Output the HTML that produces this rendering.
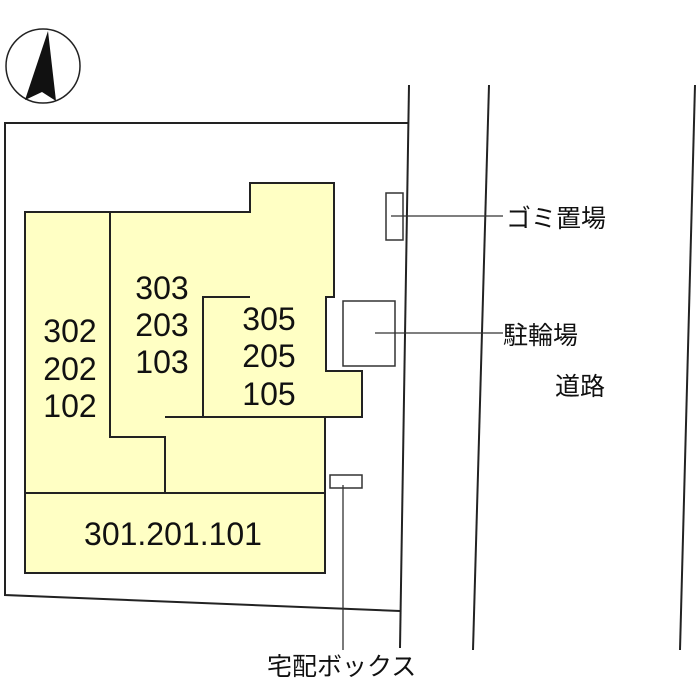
<!DOCTYPE html>
<html><head><meta charset="utf-8"><style>
html,body{margin:0;padding:0;background:#fff;}
svg{display:block;}
text{font-family:"Liberation Sans","Noto Sans CJK JP",sans-serif;fill:#111;}
</style></head><body>
<svg width="700" height="700" viewBox="0 0 700 700" xmlns="http://www.w3.org/2000/svg">
<circle cx="43" cy="66" r="37" fill="none" stroke="#222" stroke-width="1.5"/>
<polygon points="48,31 25,100 42,92 56,101" fill="#111"/>
<polyline points="408,123 5,123 5,595 400,611" fill="none" stroke="#222" stroke-width="2"/>
<line x1="409" y1="85" x2="400" y2="648" stroke="#222" stroke-width="2"/>
<line x1="489" y1="85" x2="473" y2="650" stroke="#222" stroke-width="2"/>
<line x1="695" y1="85" x2="680" y2="650" stroke="#222" stroke-width="2"/>
<g fill="#ffffc4" stroke="#222" stroke-width="2">
<polygon points="25,212 250,212 250,183 334,183 334,297 326,297 326,371 362,371 362,417 325,417 325,573 25,573"/>
</g>
<g fill="none" stroke="#222" stroke-width="2">
<polyline points="110,212 110,437 165,437 165,493"/>
<line x1="25" y1="493" x2="325" y2="493"/>
<line x1="165" y1="417" x2="325" y2="417"/>
<polyline points="203,417 203,297 250,297"/>
</g>
<g fill="#fff" stroke="#333" stroke-width="1.5">
<rect x="386" y="193" width="17" height="47"/>
<rect x="343" y="301" width="52" height="65"/>
<rect x="330" y="475" width="32" height="13"/>
</g>
<g stroke="#333" stroke-width="1.3">
<line x1="391" y1="216" x2="503" y2="216"/>
<line x1="375" y1="333" x2="503" y2="333"/>
<line x1="343" y1="485" x2="343" y2="650"/>
</g>
<g font-size="32" text-anchor="middle">
<text x="70" y="342">302</text><text x="70" y="380">202</text><text x="70" y="417">102</text>
<text x="162" y="299">303</text><text x="162" y="336">203</text><text x="162" y="373">103</text>
<text x="269" y="330">305</text><text x="269" y="367">205</text><text x="269" y="405">105</text>
<text x="173" y="545">301.201.101</text>
</g>
<g font-size="25">
<text x="506" y="227">ゴミ置場</text>
<text x="503" y="344">駐輪場</text>
<text x="555" y="395">道路</text>
<text x="267" y="675">宅配ボックス</text>
</g>
</svg>
</body></html>
